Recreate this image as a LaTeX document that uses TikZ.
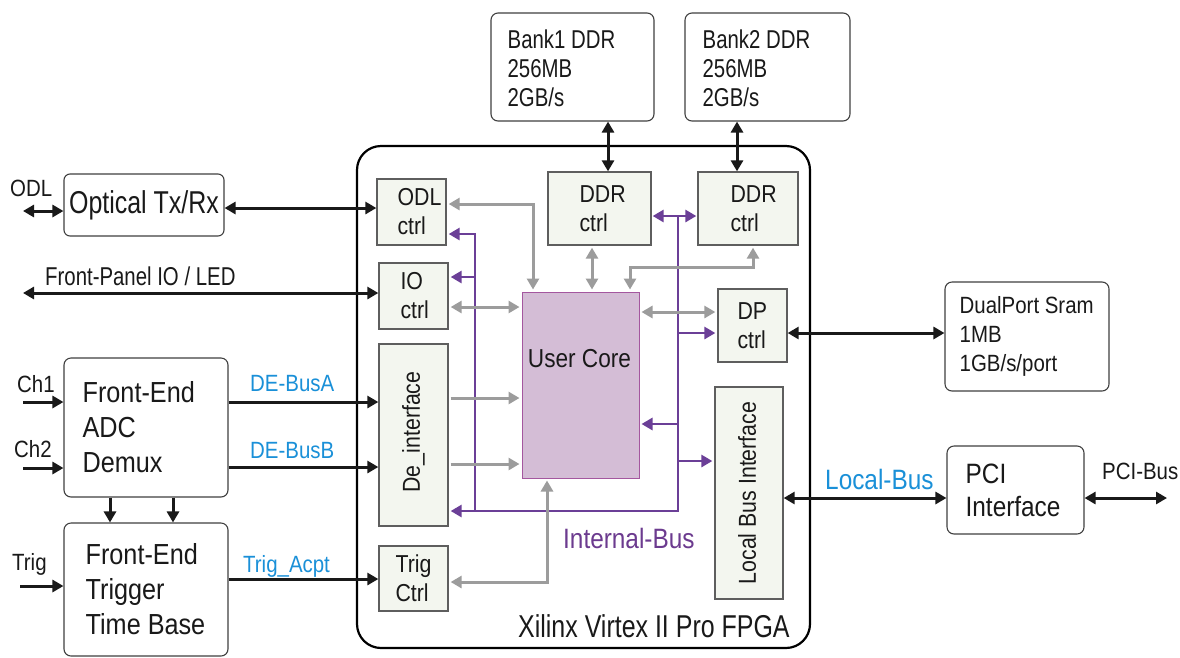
\documentclass[tikz,border=0pt]{standalone}
\usepackage{fontspec}
\setmainfont{Liberation Sans}[FakeStretch=0.87]
\newfontfamily\narrowfont{Liberation Sans}[FakeStretch=0.79]
\usetikzlibrary{arrows.meta,calc}
\definecolor{ctrlfill}{HTML}{F3F6EF}
\definecolor{ctrlline}{HTML}{5E5E5E}
\definecolor{corefill}{HTML}{D4BDD6}
\definecolor{coreline}{HTML}{A4579F}
\definecolor{busgray}{HTML}{9C9C9C}
\definecolor{buspurple}{HTML}{6B3F97}
\definecolor{lblblue}{HTML}{1A90D8}
\definecolor{txtpurple}{HTML}{6C3B8F}
\newcommand\fsSmall{\fontsize{23.5pt}{29pt}\selectfont}
\newcommand\fsCtrl{\fontsize{24.5pt}{29pt}\selectfont}
\newcommand\fsCore{\fontsize{26pt}{30pt}\selectfont}
\newcommand\fsLarge{\fontsize{28pt}{33pt}\selectfont}
\newcommand\fsBig{\fontsize{29pt}{35pt}\selectfont}
\newcommand\fsNarrowSmall{\narrowfont\fontsize{25.8pt}{29pt}\selectfont}
\newcommand\fsNarrowBig{\narrowfont\fontsize{31.6pt}{35pt}\selectfont}
\begin{document}
\begin{tikzpicture}[x=1pt,y=-1pt,
  >={Triangle[length=11pt,width=12pt]},
  line join=miter,
  extbox/.style={draw=black!75, line width=1.1pt, fill=white, rounded corners=7pt, inner sep=0pt},
  ctrlbox/.style={draw=ctrlline, line width=1.3pt, fill=ctrlfill, inner sep=0pt},
  corebox/.style={draw=coreline, line width=1pt, fill=corefill, inner sep=0pt},
  fpgabox/.style={draw=black, line width=2.2pt, rounded corners=24pt, inner sep=0pt},
  boxtext/.style={inner sep=0pt, anchor=west, align=left, text=black!90},
  rottext/.style={inner sep=0pt, rotate=90, text=black!90, font=\fsCtrl},
  lbl/.style={inner sep=0pt, anchor=base west, text=black!90, font=\fsSmall},
  bluelbl/.style={lbl, text=lblblue},
  blkarrow/.style={line width=3pt, draw=black!90},
  gryarrow/.style={line width=3pt, draw=busgray, shorten <=2pt, shorten >=2pt},
  purarrow/.style={line width=2.8pt, draw=buspurple, shorten >=2pt},
]
\useasboundingbox (0,0) rectangle (1180,657);
\fill[white] (0,0) rectangle (1180,657);

% FPGA outline
\node[fpgabox, minimum width=453pt, minimum height=502pt] (fpga) at (583.5,397) {};

% external boxes
\node[extbox, minimum width=163pt, minimum height=108pt] (bank1) at (572.5,67) {};
\node[boxtext, font=\fsNarrowSmall] (bank1t) at ([xshift=17pt,yshift=-1pt]bank1.west) {Bank1 DDR\\256MB\\2GB/s};
\node[extbox, minimum width=165pt, minimum height=108pt] (bank2) at (767.5,67) {};
\node[boxtext, font=\fsNarrowSmall] (bank2t) at ([xshift=18pt,yshift=-1pt]bank2.west) {Bank2 DDR\\256MB\\2GB/s};
\node[extbox, rounded corners=6pt, minimum width=160pt, minimum height=62pt, font=\fsNarrowBig, text=black!90] (optical) at (144,205) {Optical Tx/Rx};
\node[extbox, minimum width=164pt, minimum height=139pt] (fe) at (146,427.5) {};
\node[boxtext, font=\fsBig] (fet) at ([xshift=19pt]fe.west) {Front-End\\ADC\\Demux};
\node[extbox, minimum width=164pt, minimum height=133pt] (trg) at (146,589.5) {};
\node[boxtext, font=\fsBig] (trgt) at ([xshift=22pt,yshift=0.5pt]trg.west) {Front-End\\Trigger\\Time Base};
\node[extbox, minimum width=164pt, minimum height=109pt] (sram) at (1027,336.5) {};
\node[boxtext, font=\fsSmall] (sramt) at ([xshift=15pt]sram.west) {DualPort Sram\\1MB\\1GB/s/port};
\node[extbox, minimum width=137pt, minimum height=88pt] (pci) at (1015.5,490) {};
\node[boxtext, font=\fsLarge] (pcit) at ([xshift=19pt]pci.west) {PCI\\Interface};

% FPGA internal blocks
\node[ctrlbox, minimum width=69pt, minimum height=66pt] (odl) at (411.5,212) {};
\node[boxtext, font=\fsCtrl] (odlt) at ([xshift=21pt]odl.west) {ODL\\ctrl};
\node[ctrlbox, minimum width=69pt, minimum height=66pt] (io) at (413.5,296) {};
\node[boxtext, font=\fsCtrl] (iot) at ([xshift=22pt]io.west) {IO\\ctrl};
\node[ctrlbox, minimum width=103pt, minimum height=73pt] (ddr1) at (599.5,208.5) {};
\node[boxtext, font=\fsCtrl] (ddr1t) at ([xshift=32pt]ddr1.west) {DDR\\ctrl};
\node[ctrlbox, minimum width=100pt, minimum height=73pt] (ddr2) at (748,208.5) {};
\node[boxtext, font=\fsCtrl] (ddr2t) at ([xshift=33pt]ddr2.west) {DDR\\ctrl};
\node[ctrlbox, minimum width=69pt, minimum height=73pt] (dp) at (752.5,325.5) {};
\node[boxtext, font=\fsCtrl] (dpt) at ([xshift=20pt]dp.west) {DP\\ctrl};
\node[ctrlbox, minimum width=69pt, minimum height=182pt] (de) at (413.5,435) {};
\node[rottext] (det) at ([yshift=3pt]de.center) {De\_interface};
\node[ctrlbox, minimum width=69pt, minimum height=65pt] (trigc) at (413.5,578.5) {};
\node[boxtext, font=\fsCtrl] (trigct) at ([xshift=17pt]trigc.west) {Trig\\Ctrl};
\node[ctrlbox, minimum width=68pt, minimum height=212pt] (lbi) at (749,493) {};
\node[rottext] (lbit) at ([xshift=-2pt]lbi.center) {Local Bus Interface};
\node[corebox, minimum width=117pt, minimum height=186pt] (core) at (580.5,385) {};
\node[inner sep=0pt, anchor=base, font=\fsCore, text=black!90] (coret) at (579.5,367) {User Core};

% labels
\node[lbl] (odllbl) at (10,196) {ODL};
\node[lbl, font=\fsNarrowSmall] (fplbl) at (45,285) {Front-Panel IO / LED};
\node[lbl] (ch1lbl) at (17,392) {Ch1};
\node[lbl] (ch2lbl) at (14,457) {Ch2};
\node[lbl] (triglbl) at (12,570) {Trig};
\node[bluelbl] (debusa) at (250,391) {DE-BusA};
\node[bluelbl] (debusb) at (250,458) {DE-BusB};
\node[bluelbl] (tacpt) at (243,572) {Trig\_Acpt};
\node[bluelbl, font=\fsLarge] (lbus) at (825,489) {Local-Bus};
\node[lbl] (pcibus) at (1102,479) {PCI-Bus};
\node[lbl, text=txtpurple, font=\fsLarge] (ibus) at (563,548) {Internal-Bus};
\node[lbl, font=\fsNarrowBig] (xil) at (518,637) {Xilinx Virtex II Pro FPGA};

% free ends
\coordinate (odlIn) at (23,211);
\coordinate (fpIn) at (23,293);
\coordinate (ch1In) at (23,402);
\coordinate (ch2In) at (23,468);
\coordinate (trigIn) at (20,586);
\coordinate (pciOut) at (1167,498);

% purple internal bus
\draw[purarrow,->] (678,216) -- (678,511) -- (de.east |- 0,511);
\draw[purarrow,->] (475,511) -- (475,234) -- (odl.east |- 0,234);
\draw[purarrow,->] (475,277) -- (io.east |- 0,277);
\draw[purarrow,<->, shorten <=1pt, shorten >=1pt] (ddr1.east |- 0,216) -- (ddr2.west |- 0,216);
\draw[purarrow,->] (678,333) -- (dp.west |- 0,333);
\draw[purarrow,->] (678,424) -- (core.east |- 0,424);
\draw[purarrow,->] (678,461) -- (lbi.west |- 0,461);

% gray internal links
\draw[gryarrow,<->] (odl.east |- 0,204) -- (533,204) -- (533,0 |- core.north);
\draw[gryarrow,<->] (592,0 |- ddr1.south) -- (592,0 |- core.north);
\draw[gryarrow,<->] (753,0 |- ddr2.south) -- (753,267) -- (630,267) -- (630,0 |- core.north);
\draw[gryarrow,<->] (io.east |- 0,307) -- (core.west |- 0,307);
\draw[gryarrow,<->] (core.east |- 0,312) -- (dp.west |- 0,312);
\draw[gryarrow,->] (de.east |- 0,398) -- (core.west |- 0,398);
\draw[gryarrow,->] (de.east |- 0,464) -- (core.west |- 0,464);
\draw[gryarrow,<->] (trigc.east |- 0,582) -- (547,582) -- (547,0 |- core.south);

% black external links
\draw[blkarrow,<->] (608,0 |- bank1.south) -- (608,0 |- ddr1.north);
\draw[blkarrow,<->] (737,0 |- bank2.south) -- (737,0 |- ddr2.north);
\draw[blkarrow,<->] (odlIn) -- (odlIn -| optical.west);
\draw[blkarrow,<->] (optical.east |- 0,208) -- (odl.west |- 0,208);
\draw[blkarrow,<->] (fpIn) -- (fpIn -| io.west);
\draw[blkarrow,->] (ch1In) -- (ch1In -| fe.west);
\draw[blkarrow,->] (ch2In) -- (ch2In -| fe.west);
\draw[blkarrow,->] (trigIn) -- (trigIn -| trg.west);
\draw[blkarrow,->] (fe.east |- 0,402) -- (de.west |- 0,402);
\draw[blkarrow,->] (fe.east |- 0,467) -- (de.west |- 0,467);
\draw[blkarrow,->] (110,0 |- fe.south) -- (110,0 |- trg.north);
\draw[blkarrow,->] (173,0 |- fe.south) -- (173,0 |- trg.north);
\draw[blkarrow,->] (trg.east |- 0,579) -- (trigc.west |- 0,579);
\draw[blkarrow,<->] (dp.east |- 0,333) -- (sram.west |- 0,333);
\draw[blkarrow,<->] (lbi.east |- 0,498) -- (pci.west |- 0,498);
\draw[blkarrow,<->] (pci.east |- 0,498) -- (pciOut);
\end{tikzpicture}
\end{document}
